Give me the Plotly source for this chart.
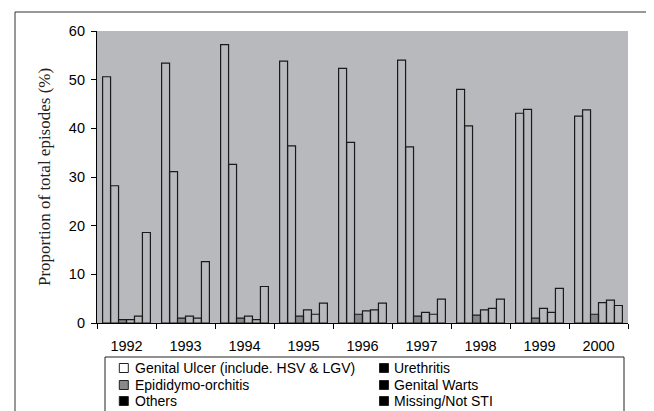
import plotly.graph_objects as go

years = ["1992", "1993", "1994", "1995", "1996", "1997", "1998", "1999", "2000"]
series_names = ["Genital Ulcer (include. HSV & LGV)", "Urethritis", "Epididymo-orchitis",
                "Genital Warts", "Others", "Missing/Not STI"]
genital_ulcer = [50.6, 53.4, 57.2, 53.8, 52.3, 54.0, 48.0, 43.1, 42.5]
urethritis = [28.2, 31.1, 32.6, 36.4, 37.1, 36.2, 40.5, 43.9, 43.8]
epididymo = [0.7, 1.0, 1.0, 1.4, 1.8, 1.4, 1.6, 1.0, 1.8]
genital_warts = [0.7, 1.4, 1.4, 2.7, 2.5, 2.2, 2.7, 3.0, 4.2]
others = [1.4, 1.0, 0.7, 1.8, 2.7, 1.8, 3.0, 2.2, 4.7]
missing = [18.6, 12.6, 7.5, 4.1, 4.1, 4.9, 4.9, 7.1, 3.6]
values = [genital_ulcer, urethritis, epididymo, genital_warts, others, missing]
bar_fills = ["rgba(0,0,0,0)", "rgba(0,0,0,0)", "#86878a", "rgba(0,0,0,0)", "rgba(0,0,0,0)", "rgba(0,0,0,0)"]
legend_fills = ["white", "black", "#8a8a8a", "black", "black", "black"]

# the page body has an 8px margin; figure coordinates are page coordinates minus 8
OFF = 8
W, H = 654 - OFF, 411 - OFF
L, R, T, B = 97 - OFF, 628 - OFF, 31 - OFF, 323 - OFF

def px2x(px):
    return (px - OFF - L) / (R - L)

def px2y(py):
    return (B - (py - OFF)) / (B - T)

fig = go.Figure()
for name, vals, fc in zip(series_names, values, bar_fills):
    fig.add_trace(go.Bar(x=years, y=vals, name=name, showlegend=False,
                         marker=dict(color=fc, line=dict(color="#1a1a1a", width=1.2))))

shapes = []
annotations = []
# outer frame
shapes.append(dict(type="rect", xref="paper", yref="paper",
                   x0=px2x(15), x1=px2x(670), y0=px2y(430), y1=px2y(12),
                   line=dict(color="#333333", width=1), fillcolor="rgba(0,0,0,0)", layer="below"))
# legend box
shapes.append(dict(type="rect", xref="paper", yref="paper",
                   x0=px2x(105), x1=px2x(624), y0=px2y(425), y1=px2y(357),
                   line=dict(color="#222222", width=1), fillcolor="rgba(0,0,0,0)"))
rows = [368, 385, 401]
cols = [(123.8, 133), (384, 392)]
for i, (name, lf) in enumerate(zip(series_names, legend_fills)):
    r, c = divmod(i, 2)
    cy = rows[r]
    mx, tx = cols[c]
    shapes.append(dict(type="rect", xref="paper", yref="paper",
                       x0=px2x(mx - 4.5), x1=px2x(mx + 4.5), y0=px2y(cy + 4.5), y1=px2y(cy - 4.5),
                       line=dict(color="#222222", width=1), fillcolor=lf))
    annotations.append(dict(xref="paper", yref="paper", x=px2x(tx), y=px2y(cy),
                            xanchor="left", yanchor="middle", showarrow=False, text=name,
                            font=dict(family="Liberation Sans, Arial", size=14, color="black")))
annotations.append(dict(xref="paper", yref="paper", x=px2x(44), y=px2y(177),
                        xanchor="center", yanchor="middle", showarrow=False, textangle=-90,
                        text="Proportion of total episodes (%)",
                        font=dict(family="Liberation Serif, Times New Roman", size=17, color="#222222")))

fig.update_layout(
    width=W, height=H,
    margin=dict(l=L, r=W - R, t=T, b=H - B),
    paper_bgcolor="white", plot_bgcolor="#b8b9bd",
    barmode="group", bargap=0.19, bargroupgap=0,
    shapes=shapes, annotations=annotations,
    font=dict(family="Liberation Sans, Arial", size=14.5, color="black"),
    xaxis=dict(showgrid=False, showline=True, linecolor="black", linewidth=1.2,
               ticks="outside", ticklen=5, tickcolor="black", tickson="boundaries",
               tickfont=dict(size=14.5), ticklabelstandoff=9, mirror=False),
    yaxis=dict(range=[0, 60], dtick=10, showgrid=False, showline=True, linecolor="black",
               linewidth=1.2, ticks="outside", ticklen=5, tickcolor="black", zeroline=False,
               tickfont=dict(size=14.5), ticklabelstandoff=3),
)
fig.write_html("out.html")
